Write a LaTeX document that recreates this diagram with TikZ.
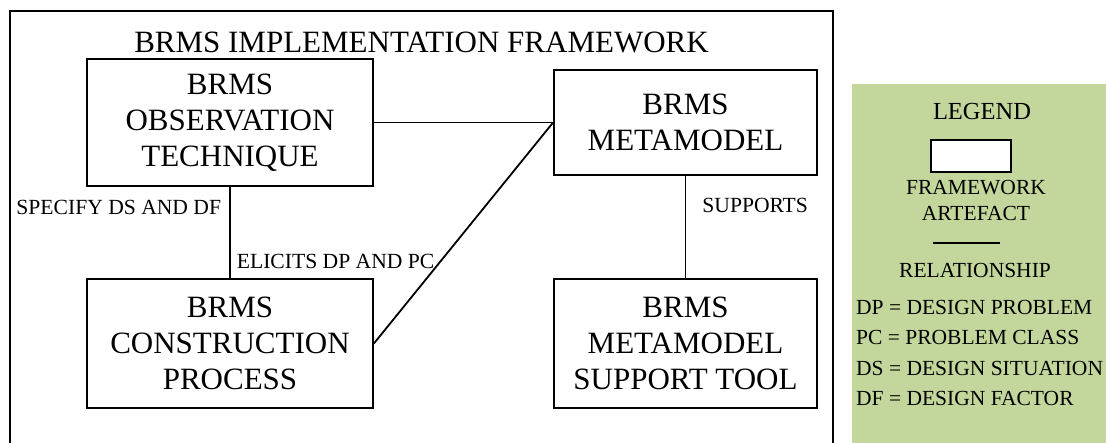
\documentclass[tikz,border=0pt]{standalone}
\usepackage{fontspec}
\setmainfont{Liberation Serif}
\usetikzlibrary{positioning,calc}
\definecolor{legendGreen}{RGB}{195,214,155}
\definecolor{inkBlack}{RGB}{0,0,0}
\tikzset{
  artefact node/.style={draw=inkBlack,line width=1.8pt,fill=white,align=center,font=\fontsize{31}{36}\selectfont,inner sep=0pt},
  relation line/.style={draw=inkBlack,line width=1.8pt},
  relation label/.style={font=\fontsize{21.6}{26}\selectfont,inner sep=0pt},
  legend text/.style={font=\fontsize{21.5}{26}\selectfont,align=center,inner sep=0pt}
}

\begin{document}
\begin{tikzpicture}[x=1pt,y=-1pt]
  \useasboundingbox (0,0) rectangle (1106,443);
  % framework frame
  \draw[relation line] (10,11) rectangle (833,452);
  \node[font=\fontsize{31}{36}\selectfont] (title) at (421.5,42) {BRMS IMPLEMENTATION FRAMEWORK};
  \node[artefact node,minimum width=286pt,minimum height=127pt] (observation) at (230,122.5) {BRMS\\OBSERVATION\\TECHNIQUE};
  \node[artefact node,minimum width=263pt,minimum height=105pt] (metamodel) at (685.5,122.5) {BRMS\\METAMODEL};
  \node[artefact node,minimum width=286pt,minimum height=129pt] (construction) at (230,343.5) {BRMS\\CONSTRUCTION\\PROCESS};
  \node[artefact node,minimum width=263pt,minimum height=129pt] (supporttool) at (685.5,343.5) {BRMS\\METAMODEL\\SUPPORT TOOL};
  \draw[relation line] (observation) -- (metamodel);
  \draw[relation line] (metamodel.west) -- (construction.east);
  \draw[relation line] (observation) -- node[relation label,pos=0.23,left=8pt] {SPECIFY DS AND DF} node[relation label,pos=0.82,right=6pt] {ELICITS DP AND PC} (construction);
  \draw[relation line] (metamodel) -- node[relation label,pos=0.29,right=16pt] {SUPPORTS} (supporttool);
  % legend
  \node[fill=legendGreen,minimum width=254pt,minimum height=368pt,inner sep=0pt] (legend) at (979,268) {};
  \node[legend text,font=\fontsize{24.5}{28}\selectfont] (legendtitle) at (982,112) {LEGEND};
  \node[draw=inkBlack,line width=2.2pt,fill=white,minimum width=80pt,minimum height=32pt,inner sep=0pt] (artefactkey) at (971,156) {};
  \node[legend text] (artefacttext) at (976,200) {FRAMEWORK\\ARTEFACT};
  \coordinate (relstart) at (933,243);
  \coordinate (relend) at (1000,243);
  \draw[relation line] (relstart) -- (relend);
  \node[legend text] (relationtext) at (975,270) {RELATIONSHIP};
  \foreach \abbr/\full [count=\i] in {DP/DESIGN PROBLEM,PC/PROBLEM CLASS,DS/DESIGN SITUATION,DF/DESIGN FACTOR}
    \node[legend text,anchor=west] (abbr\i) at (856,{276.5+30.5*\i}) {\abbr{} = \full};
\end{tikzpicture}
\end{document}
